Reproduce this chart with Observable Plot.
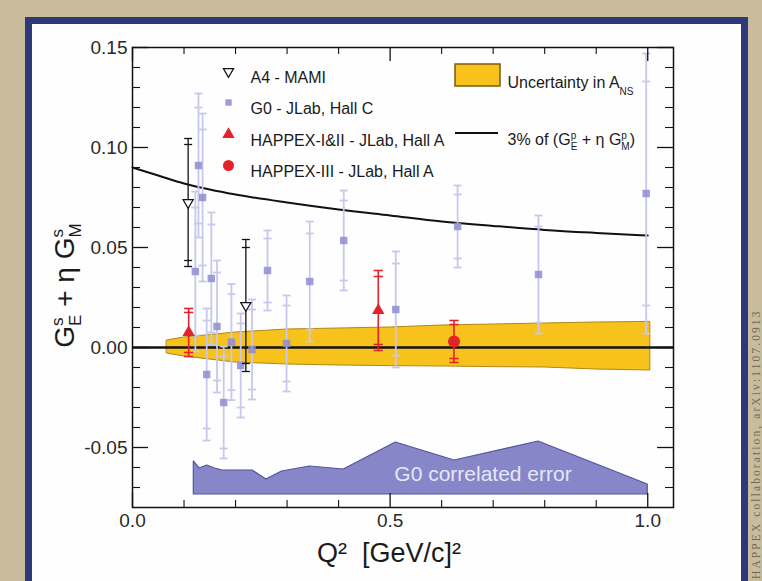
<!DOCTYPE html>
<html><head><meta charset="utf-8">
<script src="https://cdn.jsdelivr.net/npm/d3@7"></script>
<script src="https://cdn.jsdelivr.net/npm/@observablehq/plot@0.6"></script>
<style>
html,body{margin:0;padding:0;}
body{width:762px;height:581px;overflow:hidden;background:#c9bc9c;position:relative;font-family:"Liberation Sans",Arial,sans-serif;}
#panel{position:absolute;left:25px;top:17px;width:709px;height:620px;background:#fefefe;border:7px solid #2e3a78;}
#chart{position:absolute;left:0;top:0;}
#credit{position:absolute;left:750px;top:579px;transform:rotate(-90deg);transform-origin:0 0;white-space:nowrap;font-family:"Liberation Serif","Times New Roman",serif;font-size:11.5px;line-height:12px;letter-spacing:2.1px;color:#6f6a5e;}
</style></head>
<body>
<div id="panel"></div>
<div id="chart"></div>
<div id="credit">HAPPEX collaboration, arXiv:1107.0913</div>
<script>
// ---------- data ----------
// 3% of (G_E^p + eta G_M^p)
const curveQ2  = [0, 0.05, 0.1, 0.15, 0.2, 0.3, 0.4, 0.5, 0.6, 0.7, 0.8, 0.9, 1.0];
const curveVal = [0.090, 0.086, 0.082, 0.079, 0.0765, 0.0725, 0.069, 0.066, 0.063, 0.0608, 0.0588, 0.0573, 0.056];

// Uncertainty in A_NS band
const bandQ2   = [0.067, 0.1, 0.15, 0.2, 0.3, 0.4, 0.5, 0.6, 0.7, 0.8, 0.9, 1.005];
const bandLow  = [-0.003, -0.0045, -0.006, -0.0075, -0.0085, -0.009, -0.0093, -0.0095, -0.0098, -0.010, -0.011, -0.0115];
const bandHigh = [0.0035, 0.005, 0.0062, 0.0075, 0.009, 0.0095, 0.010, 0.011, 0.0115, 0.012, 0.0125, 0.0128];

// G0 correlated error region
const g0CorrBase = -0.0735;
const g0CorrQ2  = [0.119, 0.130, 0.145, 0.160, 0.175, 0.233, 0.260, 0.290, 0.344, 0.410, 0.511, 0.625, 0.788, 1.0];
const g0CorrTop = [-0.057, -0.0605, -0.059, -0.0605, -0.0615, -0.0615, -0.066, -0.062, -0.0595, -0.061, -0.0475, -0.0565, -0.047, -0.0685];

// G0 - JLab, Hall C
const g0Q2   = [0.122, 0.128, 0.136, 0.144, 0.153, 0.164, 0.177, 0.192, 0.210, 0.232, 0.262, 0.299, 0.344, 0.410, 0.511, 0.631, 0.788, 0.997];
const g0Val  = [0.038, 0.091, 0.075, -0.0135, 0.0345, 0.0105, -0.0275, 0.0027, -0.009, -0.001, 0.0385, 0.002, 0.033, 0.0535, 0.019, 0.0605, 0.0365, 0.077];
const g0Tot  = [0.040, 0.036, 0.042, 0.033, 0.033, 0.033, 0.028, 0.029, 0.026, 0.025, 0.020, 0.024, 0.030, 0.025, 0.029, 0.0205, 0.0295, 0.070];
const g0Stat = [0.032, 0.029, 0.034, 0.027, 0.027, 0.027, 0.023, 0.024, 0.021, 0.020, 0.016, 0.019, 0.024, 0.020, 0.023, 0.016, 0.024, 0.056];

// A4 - MAMI
const a4Q2   = [0.108, 0.220];
const a4Val  = [0.0725, 0.021];
const a4Tot  = [0.032, 0.033];
const a4Stat = [0.029, 0.029];

// HAPPEX-I&II
const h12Q2   = [0.109, 0.477];
const h12Val  = [0.0075, 0.0185];
const h12Tot  = [0.012, 0.020];
const h12Stat = [0.010, 0.017];

// HAPPEX-III
const h3Q2   = [0.624];
const h3Val  = [0.003];
const h3Tot  = [0.0105];
const h3Stat = [0.0085];

// ticks
const xTickLabels = [0.0, 0.5, 1.0];
const xMinor = [0.1, 0.2, 0.3, 0.4, 0.6, 0.7, 0.8, 0.9];
const yTickLabels = [-0.05, 0.00, 0.05, 0.10, 0.15];
const yMinor = [-0.07, -0.06, -0.04, -0.03, -0.02, -0.01, 0.01, 0.02, 0.03, 0.04, 0.06, 0.07, 0.08, 0.09, 0.11, 0.12, 0.13, 0.14];

const legendLabels = ["A4 - MAMI", "G0 - JLab, Hall C", "HAPPEX-I&II - JLab, Hall A", "HAPPEX-III - JLab, Hall A"];

// ---------- tables ----------
const zip = (q, v, t, s) => q.map((d, i) => ({q2: d, v: v[i], tot: t ? t[i] : 0, stat: s ? s[i] : 0}));
const curve = curveQ2.map((d, i) => ({q2: d, v: curveVal[i]}));
const band = bandQ2.map((d, i) => ({q2: d, lo: bandLow[i], hi: bandHigh[i]}));
const g0Corr = g0CorrQ2.map((d, i) => ({q2: d, top: g0CorrTop[i]}));
const g0 = zip(g0Q2, g0Val, g0Tot, g0Stat);
const a4 = zip(a4Q2, a4Val, a4Tot, a4Stat);
const h12 = zip(h12Q2, h12Val, h12Tot, h12Stat);
const h3 = zip(h3Q2, h3Val, h3Tot, h3Stat);

// horizontal cap symbol
const cap = {draw(ctx, size) { const w = Math.sqrt(size / Math.PI) * 2; ctx.moveTo(-w, 0); ctx.lineTo(w, 0); }};

function errMarks(data, color, width, capR) {
  return [
    Plot.ruleX(data, {x: "q2", y1: d => d.v - d.tot, y2: d => d.v + d.tot, stroke: color, strokeWidth: width}),
    Plot.dot(data, {x: "q2", y: d => d.v + d.tot, symbol: cap, r: capR, fill: "none", stroke: color, strokeWidth: width}),
    Plot.dot(data, {x: "q2", y: d => d.v - d.tot, symbol: cap, r: capR, fill: "none", stroke: color, strokeWidth: width}),
    Plot.dot(data, {x: "q2", y: d => d.v + d.stat, symbol: cap, r: capR, fill: "none", stroke: color, strokeWidth: width}),
    Plot.dot(data, {x: "q2", y: d => d.v - d.stat, symbol: cap, r: capR, fill: "none", stroke: color, strokeWidth: width})
  ];
}

const W = 762, H = 581, ML = 132, MR = 89, MT = 47, MB = 74;
const FW = W - ML - MR, FH = H - MT - MB;
const red = "#e3222a", g0Bar = "#c8c8ec", g0Dot = "#8d8dd2";

const legendRows = [24, 55, 87, 118];
const legendMarks = [
  Plot.dot([0], {frameAnchor: "top-left", dx: 96, dy: legendRows[0], symbol: "triangle", rotate: 180, r: 3.8, fill: "white", stroke: "#111", strokeWidth: 1.2}),
  Plot.dot([0], {frameAnchor: "top-left", dx: 96, dy: legendRows[1], symbol: "square", r: 3.6, fill: "#9c9cd8"}),
  Plot.dot([0], {frameAnchor: "top-left", dx: 96, dy: legendRows[2], symbol: "triangle", r: 4.6, fill: red}),
  Plot.dot([0], {frameAnchor: "top-left", dx: 96, dy: legendRows[3], symbol: "circle", r: 5.5, fill: red}),
  ...legendLabels.map((t, i) => Plot.text([t], {text: d => d, frameAnchor: "top-left", dx: 118, dy: legendRows[i], textAnchor: "start", fontSize: 16, fill: "#1a1a1a"})),
  Plot.rect([0], {insetLeft: 323, insetRight: 173, insetTop: 17, insetBottom: FH - 39, fill: "#f7c21b", stroke: "#7a5a10", strokeWidth: 1.5}),
  Plot.text(["LEG_ANS"], {text: d => d, frameAnchor: "top-left", dx: 375, dy: 29, textAnchor: "start", fontSize: 16, fill: "#1a1a1a"}),
  Plot.rect([0], {insetLeft: 323, insetRight: 175, insetTop: 85, insetBottom: FH - 87, fill: "#111"}),
  Plot.text(["LEG_CURVE"], {text: d => d, frameAnchor: "top-left", dx: 375, dy: 86, textAnchor: "start", fontSize: 16, fill: "#1a1a1a"})
];

const plot = Plot.plot({
  width: W, height: H,
  marginLeft: ML, marginRight: MR, marginTop: MT, marginBottom: MB,
  style: {background: "transparent", fontFamily: '"Liberation Sans", Arial, sans-serif', fontSize: "19px", color: "#222", overflow: "visible"},
  x: {domain: [0, 1.05]},
  y: {domain: [-0.08, 0.15]},
  marks: [
    // G0 correlated error
    Plot.areaY(g0Corr, {x: "q2", y1: () => g0CorrBase, y2: "top", fill: "#8686c9", stroke: "#55559a", strokeWidth: 1.2}),
    Plot.text(["G0 correlated error"], {text: d => d, frameAnchor: "bottom", dx: 80, dy: -27, fill: "#e6e6f7", fontSize: 21}),
    // A_NS band
    Plot.areaY(band, {x: "q2", y1: "lo", y2: "hi", fill: "#f7c21b", stroke: "#b08816", strokeWidth: 1}),
    Plot.ruleY([0], {stroke: "#111", strokeWidth: 2.5}),
    Plot.line(curve, {x: "q2", y: "v", stroke: "#111", strokeWidth: 2, curve: "monotone-x"}),
    // G0
    ...errMarks(g0, g0Bar, 1.8, 2),
    Plot.dot(g0, {x: "q2", y: "v", symbol: "square", r: 4.2, fill: g0Dot, fillOpacity: 0.85}),
    // A4
    ...errMarks(a4, "#111", 1.3, 2),
    Plot.dot(a4, {x: "q2", y: "v", symbol: "triangle", rotate: 180, r: 3.8, fill: "white", stroke: "#111", strokeWidth: 1.2}),
    // HAPPEX-I&II
    ...errMarks(h12, red, 1.6, 2.3),
    Plot.dot(h12, {x: "q2", y: "v", symbol: "triangle", r: 4.6, fill: red}),
    // HAPPEX-III
    ...errMarks(h3, red, 1.6, 2.3),
    Plot.dot(h3, {x: "q2", y: "v", symbol: "circle", r: 6, fill: red}),
    // frame and inward ticks
    Plot.frame({stroke: "#111", strokeWidth: 1.5}),
    Plot.tickY(yTickLabels, {y: d => d, insetRight: FW - 16, stroke: "#111", strokeWidth: 1.3}),
    Plot.tickY(yMinor, {y: d => d, insetRight: FW - 8, stroke: "#111", strokeWidth: 1.1}),
    Plot.tickY(yTickLabels, {y: d => d, insetLeft: FW - 16, stroke: "#111", strokeWidth: 1.3}),
    Plot.tickY(yMinor, {y: d => d, insetLeft: FW - 8, stroke: "#111", strokeWidth: 1.1}),
    Plot.tickX(xTickLabels, {x: d => d, insetTop: FH - 14, stroke: "#111", strokeWidth: 1.3}),
    Plot.tickX(xMinor, {x: d => d, insetTop: FH - 7, stroke: "#111", strokeWidth: 1.1}),
    Plot.tickX(xTickLabels, {x: d => d, insetBottom: FH - 14, stroke: "#111", strokeWidth: 1.3}),
    Plot.tickX(xMinor, {x: d => d, insetBottom: FH - 7, stroke: "#111", strokeWidth: 1.1}),
    Plot.axisX(xTickLabels, {tickSize: 0, tickPadding: 6, tickFormat: d => d.toFixed(1), label: null, fill: "#2a2a2a"}),
    Plot.axisY(yTickLabels, {tickSize: 0, tickPadding: 5, tickFormat: d => d.toFixed(2), label: null, fill: "#2a2a2a"}),
    // axis titles
    Plot.text(["Q²\u00a0\u00a0[GeV/c]²"], {text: d => d, frameAnchor: "bottom", dx: -14, dy: 54, fontSize: 27, fill: "#1a1a1a"}),
    Plot.text(["YLABEL"], {text: d => d, frameAnchor: "left", dx: -67, dy: 8, rotate: -90, fontSize: 28, fill: "#1a1a1a"}),
    ...legendMarks
  ]
});
document.getElementById("chart").appendChild(plot);

// rich text (sub/superscripts) for labels
const NS = "http://www.w3.org/2000/svg";
function richify(key, parts, center) {
  plot.querySelectorAll("text").forEach(t => {
    if (t.textContent !== key) return;
    while (t.firstChild) t.removeChild(t.firstChild);
    t.setAttribute("text-anchor", "start");
    let shift = 0, prev = null, total = 0;
    const spans = [];
    for (const p of parts) {
      const ts = document.createElementNS(NS, "tspan");
      ts.textContent = p.t;
      const target = p.off || 0;
      ts.setAttribute("dy", target - shift);
      shift = target;
      if (p.fs) ts.setAttribute("font-size", p.fs);
      t.appendChild(ts);
      const len = ts.getComputedTextLength();
      if (p.back && prev) {
        const b = prev.getComputedTextLength();
        ts.setAttribute("dx", -b);
        total += Math.max(0, len - b);
      } else {
        total += len;
      }
      spans.push(ts);
      prev = ts;
    }
    if (center) spans[0].setAttribute("dx", -total / 2);
  });
}
richify("YLABEL", [
  {t: "G"}, {t: "s", fs: 17, off: -11}, {t: "E", fs: 17, off: 7, back: true},
  {t: " + η G"}, {t: "s", fs: 17, off: -11}, {t: "M", fs: 17, off: 7, back: true}
], true);
richify("LEG_ANS", [{t: "Uncertainty in A"}, {t: "NS", fs: 10, off: 7}], false);
richify("LEG_CURVE", [
  {t: "3% of (G"}, {t: "p", fs: 10, off: -6}, {t: "E", fs: 10, off: 5, back: true},
  {t: " + η G"}, {t: "p", fs: 10, off: -6}, {t: "M", fs: 10, off: 5, back: true}, {t: ")"}
], false);
</script>
</body></html>
